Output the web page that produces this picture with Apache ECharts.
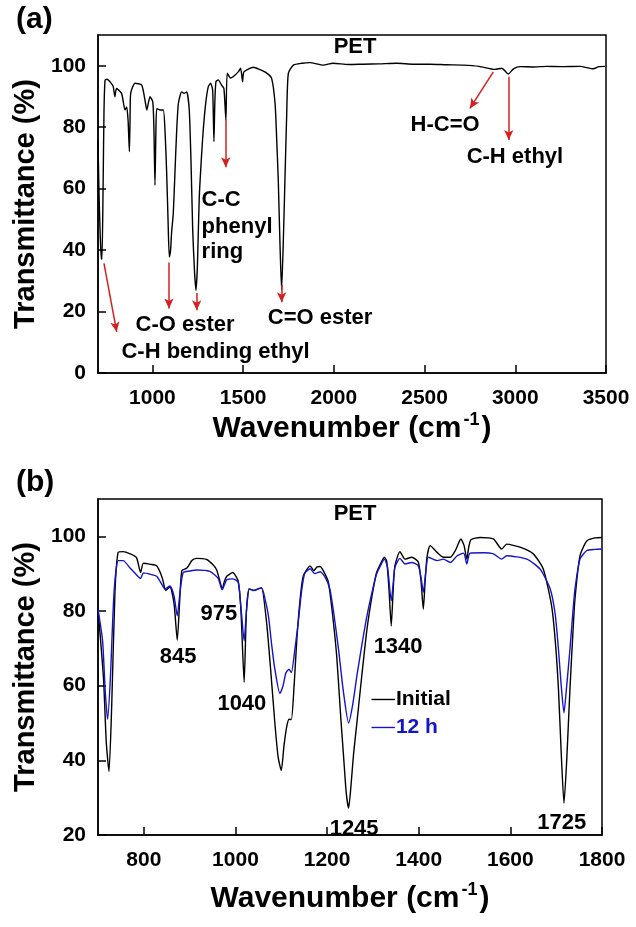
<!DOCTYPE html>
<html><head><meta charset="utf-8">
<script src="https://cdn.jsdelivr.net/npm/echarts@6/dist/echarts.min.js"></script>
<style>html,body{margin:0;padding:0;background:#fff}#c{width:636px;height:927px}</style>
</head><body><div id="c"></div>
<script>
// ---- Panel (a): full PET spectrum ----
const aWn = [700,705,712,718,722,728,733,739,750,770,784,793,802,830,849,858,866,873,877,880,904,941,959,969,978,987,1002,1008,1014,1019,1024,1042,1060,1070,1078,1086,1093,1100,1106,1115,1124,1133,1143,1161,1174,1189,1203,1213,1222,1232,1240,1248,1258,1270,1280,1294,1308,1321,1332,1339,1344,1350,1363,1381,1394,1405,1412,1430,1446,1473,1486,1497,1504,1556,1593,1630,1657,1676,1685,1694,1703,1712,1721,1730,1740,1749,1777,1825,1868,1942,1995,2080,2162,2250,2346,2440,2530,2620,2713,2800,2888,2925,2962,2990,3027,3100,3173,3260,3357,3430,3460,3494];
const aT  = [76,60,45,38,37,60,85,95.3,95.6,94.5,93.2,89.9,92.6,91,85.6,86.6,82,72,84,91,94.3,93.7,88.8,85.6,88,89.9,88.2,80,61.1,78,86,85.6,85.6,78,66,50,37.8,40,46,52,65,78,87.7,91.5,91,91.5,85.6,68,46.5,33,26.9,35,57,70,79,88,93.2,94.3,92,75.3,88,94.8,95.4,93.7,92.6,82.3,97.6,96,96.5,98,99.2,94.8,98,99.5,98.7,97.6,95.9,87.7,76,62,42,27,42,62,84,97.5,100.2,100.8,101,100.2,100.8,100.4,100.5,100.6,100.8,100.5,100.5,100.3,100.2,99.8,98.8,99.2,97.3,99,99.7,99.6,99.8,99.7,99.8,99,99.7,99.8];

// ---- Panel (b): 700-1800 region, Initial vs 12 h ----
const bInitWn = [700,712,718,724,730,737,744,755,770,784,793,799,815,828,840,848,857,866,873,878,883,894,905,915,937,950,959,966,971,976,981,994,1006,1012,1019,1024,1030,1040,1050,1057,1068,1077,1086,1093,1100,1106,1112,1117,1122,1128,1134,1141,1148,1163,1171,1178,1185,1195,1203,1212,1221,1229,1236,1242,1247,1252,1258,1265,1276,1287,1298,1308,1318,1325,1330,1335,1340,1344,1348,1359,1370,1385,1399,1405,1410,1414,1418,1425,1440,1454,1469,1480,1492,1499,1505,1509,1514,1534,1563,1581,1592,1621,1650,1672,1690,1698,1705,1711,1717,1723,1730,1736,1741,1752,1767,1785,1800];
const bInitT  = [80.5,62,45,37,55,85,95.7,95.9,95.3,94.3,90.3,92.8,92.5,92.1,89,85.5,86.5,82,72.2,82,90.8,91.5,93.5,94.1,93.8,92.5,91,88,85.9,88,89.3,90.3,88,80,60.9,80,85.9,85.5,86,86.2,76.9,64,50,41,37.3,44,49.1,51,50.9,60,72.4,83,89.4,92.1,90.8,91.8,91.9,90,87.6,79,67.9,53,41,31,27.2,33,42,50,63,75.1,84,90.3,93,94.4,93.4,86,76,85,92.1,95.9,93.9,94.4,93.1,88,80.5,88,94.4,97.5,95.7,94.4,94.4,96.2,99.3,97.5,93.9,97,99.1,99.7,99.3,96.6,97.9,97.1,95.3,91.2,81.4,72,59,42,28.5,40,59,73,83.2,94.8,98.8,99.6,99.7];
const b12Wn = [700,710,716,721,727,735,744,755,770,788,793,799,815,828,840,846,857,866,873,879,886,900,915,944,962,971,981,994,1006,1012,1019,1024,1030,1040,1057,1065,1072,1079,1086,1097,1104,1110,1117,1122,1130,1137,1144,1151,1163,1173,1185,1196,1206,1215,1225,1236,1247,1256,1265,1276,1287,1298,1308,1318,1325,1332,1340,1344,1348,1359,1370,1385,1399,1405,1410,1415,1421,1440,1454,1469,1484,1498,1505,1512,1540,1563,1581,1592,1636,1665,1687,1698,1705,1711,1717,1723,1730,1736,1741,1752,1767,1785,1800];
const b12T  = [80.5,72,58,51,62,85,93.5,93.5,91.5,89.2,88.7,90.2,89.8,89.3,87,85.9,86.7,84,78.7,85,90.3,90.7,91,90.6,88.8,85.7,88.4,88.6,87.7,81,72,80,85.9,85.5,86.2,83,78.7,71,64.4,57.9,60,63.4,64.4,63.5,70,76.9,85,90,91.3,90,90.5,89,85.9,79,69.7,58,50,55,62.6,71,78.7,85,89.9,92.5,93.9,91.7,82.7,87,91.7,94.1,92.6,93,92.1,89,85,90,94.4,93.5,93.9,93,94.8,95.5,92.6,95.5,95.6,95.3,93.9,94.8,93.9,91.2,85.9,79,69.7,60,52.7,60,69.7,79,85.9,93.9,96.2,96.5,96.6];

// tick values
const aXTicks = [1000,1500,2000,2500,3000,3500];
const bXTicks = [800,1000,1200,1400,1600,1800];

// annotation arrows (panel a), data coords [from, to]
const aArrows = [
  [[733,35.7],[803,13.4]],
  [[1091,36],[1091,21]],
  [[1244,26],[1244,20.4]],
  [[1404,82.3],[1404,67]],
  [[1712,28.6],[1712,23]],
  [[2879,98],[2750,86.1]],
  [[2964,96.4],[2964,75.8]]
];
// annotation texts: [text, wn, T, align]
const aTexts = [
  ['PET',2117,106,'center'],
  ['H-C=O',2613,80.7,'center'],
  ['C-H ethyl',2998,70.3,'center'],
  ['C=O ester',1924,17.8,'center'],
  ['C-O ester',1180,15.5,'center'],
  ['C-H bending ethyl',1348,6.7,'center'],
  ['C-C',1271,56.2,'left'],
  ['phenyl',1271,47.5,'left'],
  ['ring',1271,39.3,'left']
];
const bTexts = [
  ['PET',1261,106,'center'],
  ['845',875,67.6,'center'],
  ['975',964,79.1,'center'],
  ['1040',1014,55,'center'],
  ['1340',1355,70.3,'center'],
  ['1245',1259,21.6,'center'],
  ['1725',1712,23.2,'center']
];
const legendNames = ['Initial','12 h'];

const FONT = "'Liberation Sans', Arial, sans-serif";
const zip = (xs, ys) => xs.map((x,i)=>[x, ys[i]]);

function xAxis(gi, min, max, ticks, gap){
  return {
    type:'value', gridIndex:gi, min:min, max:max,
    name:'{a|Wavenumber (cm}{s|-1}{a|)}', nameLocation:'middle', nameGap:gap,
    nameTextStyle:{rich:{a:{fontSize:30,fontWeight:'bold',fontFamily:FONT,color:'#000'},
                         s:{fontSize:18,fontWeight:'bold',fontFamily:FONT,color:'#000',padding:[0,2,18,2]}}},
    axisLine:{show:true,lineStyle:{color:'#000',width:1.5}},
    axisTick:{show:true,inside:true,length:8,lineStyle:{color:'#000',width:1.5},customValues:ticks},
    axisLabel:{show:true,fontSize:21,fontWeight:'bold',fontFamily:FONT,color:'#000',margin:15,customValues:ticks,
               formatter:v=>String(v)},
    splitLine:{show:false}
  };
}
function yAxis(gi, min, max){
  return {
    type:'value', gridIndex:gi, min:min, max:max, interval:20,
    name:'Transmittance (%)', nameLocation:'middle', nameGap:47, nameRotate:90,
    nameTextStyle:{fontSize:29,fontWeight:'bold',fontFamily:FONT,color:'#000'},
    axisLine:{show:true,lineStyle:{color:'#000',width:1.5}},
    axisTick:{show:true,inside:true,length:8,lineStyle:{color:'#000',width:1.5}},
    axisLabel:{show:true,fontSize:21,fontWeight:'bold',fontFamily:FONT,color:'#000',margin:12,showMaxLabel:false,
               formatter:v=>String(v)},
    splitLine:{show:false}
  };
}

const chart = echarts.init(document.getElementById('c'), null, {renderer:'canvas'});
const option = {
  animation:false,
  backgroundColor:'#fff',
  grid:[
    {left:98, top:35, width:508, height:338, show:true, borderColor:'#000', borderWidth:1.5, containLabel:false},
    {left:98, top:499, width:504, height:336, show:true, borderColor:'#000', borderWidth:1.5, containLabel:false}
  ],
  xAxis:[xAxis(0,700,3500,aXTicks,38), xAxis(1,700,1800,bXTicks,46)],
  yAxis:[yAxis(0,0,110), yAxis(1,20,110)],
  series:[
    {type:'line', xAxisIndex:0, yAxisIndex:0, data:zip(aWn,aT), showSymbol:false, smooth:0.2,
     lineStyle:{color:'#000',width:1.4}, z:3,
     markLine:{silent:true, symbol:['none','arrow'], symbolSize:[7,10], label:{show:false},
       lineStyle:{color:'#d42020',width:1.5,type:'solid'},
       data: aArrows.map(a=>[{coord:a[0]},{coord:a[1]}])}},
    {type:'line', xAxisIndex:1, yAxisIndex:1, data:zip(bInitWn,bInitT), showSymbol:false, smooth:0.2,
     lineStyle:{color:'#000',width:1.4}, z:3, name:legendNames[0]},
    {type:'line', xAxisIndex:1, yAxisIndex:1, data:zip(b12Wn,b12T), showSymbol:false, smooth:0.2,
     lineStyle:{color:'#1414c8',width:1.4}, z:4, name:legendNames[1]}
  ]
};
chart.setOption(option);

const g = [];
function addTexts(list, gi, size){
  list.forEach(t=>{
    const p = chart.convertToPixel({xAxisIndex:gi, yAxisIndex:gi}, [t[1], t[2]]);
    g.push({type:'text', x:p[0], y:p[1], z:10,
      style:{text:t[0], fill:'#000', font:'bold '+size+'px '+FONT, textAlign:t[3], textVerticalAlign:'middle'}});
  });
}
addTexts(aTexts, 0, 22);
addTexts(bTexts, 1, 22);
// panel labels
g.push({type:'text', left:16, top:5, style:{text:'(a)', fill:'#000', font:'bold 30px '+FONT}});
g.push({type:'text', left:16, top:468, style:{text:'(b)', fill:'#000', font:'bold 30px '+FONT}});
// legend in panel (b)
const legColors = ['#000','#1414c8'];
[[56.3],[48.8]].forEach((row,i)=>{
  const p1 = chart.convertToPixel({xAxisIndex:1,yAxisIndex:1},[1297,row[0]]);
  const p2 = chart.convertToPixel({xAxisIndex:1,yAxisIndex:1},[1348,row[0]]);
  g.push({type:'line', z:10, shape:{x1:p1[0],y1:p1[1],x2:p2[0],y2:p2[1]}, style:{stroke:legColors[i],lineWidth:1.4}});
  g.push({type:'text', z:10, x:p2[0]+1, y:p2[1], style:{text:legendNames[i], fill:legColors[i], font:'bold 21px '+FONT, textVerticalAlign:'middle'}});
});
chart.setOption({graphic:g});
</script></body></html>
